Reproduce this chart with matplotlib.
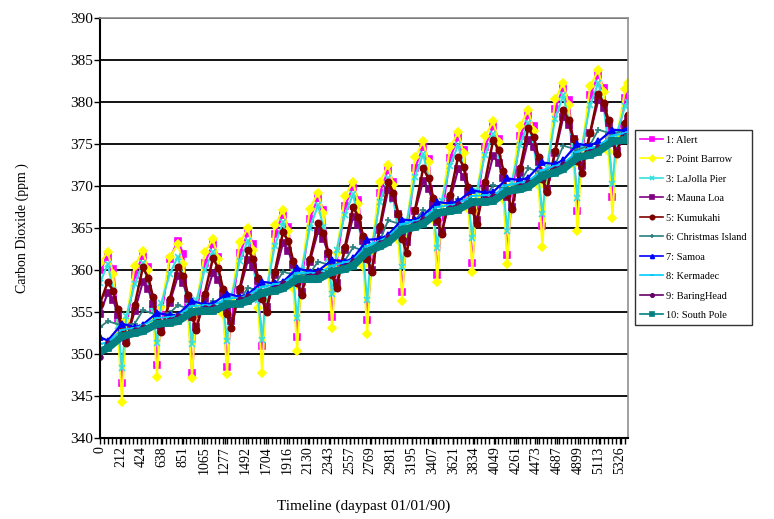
import matplotlib
matplotlib.use("Agg")
import matplotlib.pyplot as plt
from matplotlib.ticker import FixedLocator, MultipleLocator

plt.rcParams["font.family"] = ["Liberation Serif", "DejaVu Serif"]

# days past 01/01/90, seasonal stations (6 points per cycle)
DAYS = [0,
        80, 135, 185, 225, 270, 355,
        439, 494, 544, 584, 629, 714,
        798, 853, 903, 943, 988, 1073,
        1157, 1212, 1262, 1302, 1347, 1432,
        1516, 1571, 1621, 1661, 1706, 1791,
        1875, 1930, 1980, 2020, 2065, 2150,
        2234, 2289, 2339, 2379, 2424, 2509,
        2593, 2648, 2698, 2738, 2783, 2868,
        2952, 3007, 3057, 3097, 3142, 3227,
        3311, 3366, 3416, 3456, 3501, 3586,
        3670, 3725, 3775, 3815, 3860, 3945,
        4029, 4084, 4134, 4174, 4219, 4304,
        4388, 4443, 4493, 4533, 4578, 4663,
        4747, 4802, 4852, 4892, 4937, 5022,
        5106, 5161, 5211, 5251, 5296, 5381,
        5405]

# days past 01/01/90, southern / tropical stations (3 points per cycle)
DAYS_SMOOTH = [0,
               80, 225, 355,
               439, 584, 714,
               798, 943, 1073,
               1157, 1302, 1432,
               1516, 1661, 1791,
               1875, 2020, 2150,
               2234, 2379, 2509,
               2593, 2738, 2868,
               2952, 3097, 3227,
               3311, 3456, 3586,
               3670, 3815, 3945,
               4029, 4174, 4304,
               4388, 4533, 4663,
               4747, 4892, 5022,
               5106, 5251, 5381,
               5405]

ALERT = [360.0,
         361.6, 360.1, 354.1, 346.5, 353.3, 359.4,
         361.7, 360.4, 355.2, 348.7, 354.6, 361.3,
         363.5, 361.9, 355.6, 347.7, 354.8, 360.8,
         363.1, 361.6, 355.8, 348.5, 355.1, 362.0,
         364.4, 363.1, 357.7, 351.0, 357.0, 364.3,
         366.6, 365.1, 359.3, 352.0, 358.6, 366.1,
         368.6, 367.2, 361.5, 354.4, 360.8, 367.6,
         369.9, 368.3, 362.0, 354.0, 361.2, 369.2,
         371.9, 370.5, 364.7, 357.4, 363.9, 372.1,
         374.7, 373.2, 367.1, 359.4, 366.3, 373.3,
         375.8, 374.3, 368.3, 360.8, 367.6, 374.7,
         377.1, 375.6, 369.5, 361.8, 368.7, 375.9,
         378.4, 377.1, 371.8, 365.2, 371.1, 379.2,
         381.7, 380.2, 374.4, 367.0, 373.6, 380.8,
         383.2, 381.7, 376.0, 368.7, 375.2, 380.5,
         381.5]

BARROW = [360.8,
          362.2, 359.5, 352.4, 344.3, 354.1, 360.5,
          362.3, 360.0, 354.1, 347.3, 355.6, 361.5,
          363.1, 360.7, 354.4, 347.2, 355.9, 362.1,
          363.7, 361.3, 354.8, 347.6, 356.5, 363.3,
          365.0, 362.4, 355.5, 347.7, 357.2, 365.3,
          367.2, 364.7, 357.9, 350.3, 359.6, 367.3,
          369.2, 366.8, 360.3, 353.1, 362.0, 368.8,
          370.5, 367.8, 360.5, 352.4, 362.4, 370.5,
          372.5, 370.1, 363.6, 356.3, 365.2, 373.4,
          375.3, 372.8, 366.1, 358.6, 367.8, 374.6,
          376.4, 373.9, 367.3, 359.8, 368.9, 375.9,
          377.7, 375.2, 368.4, 360.7, 370.1, 377.2,
          379.0, 376.6, 370.0, 362.7, 371.7, 380.3,
          382.3, 379.6, 372.6, 364.6, 374.3, 381.9,
          383.8, 381.2, 374.1, 366.2, 375.9, 381.5,
          382.3]

LA_JOLLA = [358.5,
            360.7, 357.6, 353.3, 348.3, 354.5, 358.3,
            360.8, 358.4, 355.1, 351.3, 356.1, 359.5,
            361.6, 359.0, 355.4, 351.2, 356.4, 360.0,
            362.2, 359.6, 355.8, 351.6, 356.9, 361.1,
            363.5, 360.6, 356.4, 351.7, 357.6, 362.9,
            365.7, 362.9, 358.9, 354.3, 360.0, 365.0,
            367.7, 365.1, 361.3, 357.1, 362.4, 366.6,
            369.0, 365.9, 361.4, 356.4, 362.7, 368.1,
            371.0, 368.3, 364.6, 360.3, 365.7, 371.1,
            373.8, 371.0, 367.1, 362.6, 368.2, 372.4,
            374.9, 372.1, 368.2, 363.8, 369.4, 373.7,
            376.2, 373.3, 369.3, 364.7, 370.5, 374.9,
            377.5, 374.8, 371.0, 366.7, 372.1, 378.0,
            380.8, 377.8, 373.5, 368.6, 374.7, 379.6,
            382.3, 379.3, 375.0, 370.2, 376.3, 379.5,
            380.0]

MAUNA_LOA = [354.8,
             357.3, 356.4, 354.7, 352.7, 351.5, 355.1,
             358.6, 357.7, 356.0, 354.0, 352.8, 356.1,
             359.3, 358.4, 356.6, 354.4, 353.2, 356.5,
             359.7, 358.8, 357.1, 355.1, 353.9, 357.6,
             361.2, 360.4, 358.7, 356.7, 355.6, 359.4,
             363.2, 362.3, 360.6, 358.6, 357.4, 361.0,
             364.6, 363.7, 361.9, 359.6, 358.4, 362.4,
             366.3, 365.4, 363.5, 361.3, 360.0, 364.8,
             369.5, 368.6, 366.7, 364.5, 363.3, 367.0,
             370.6, 369.7, 367.9, 365.7, 364.5, 368.3,
             372.0, 371.1, 369.3, 367.2, 366.0, 369.8,
             373.6, 372.7, 370.9, 368.7, 367.5, 371.5,
             375.5, 374.6, 372.9, 370.8, 369.6, 373.9,
             378.2, 377.3, 375.6, 373.6, 372.4, 376.3,
             380.2, 379.3, 377.5, 375.4, 374.2, 377.2,
             378.0]

KUMUKAHI = [356.0,
            358.6, 357.5, 355.3, 352.8, 351.3, 355.8,
            360.3, 359.1, 356.8, 354.1, 352.6, 356.5,
            360.4, 359.3, 357.0, 354.4, 352.9, 357.2,
            361.4, 360.2, 357.7, 354.8, 353.1, 357.8,
            362.4, 361.3, 359.1, 356.5, 355.0, 359.8,
            364.5, 363.4, 361.1, 358.5, 357.0, 361.3,
            365.6, 364.4, 362.1, 359.4, 357.8, 362.7,
            367.5, 366.3, 364.0, 361.3, 359.8, 365.2,
            370.5, 369.2, 366.7, 363.7, 362.0, 367.1,
            372.1, 370.9, 368.6, 365.9, 364.3, 368.9,
            373.5, 372.3, 369.9, 367.1, 365.5, 370.5,
            375.5, 374.3, 371.8, 368.9, 367.3, 372.1,
            376.9, 375.8, 373.5, 370.8, 369.3, 374.2,
            379.0, 377.9, 375.6, 373.0, 371.5, 376.3,
            381.0, 379.9, 377.8, 375.2, 373.8, 377.5,
            378.5]

CHRISTMAS = [353.2,
             353.9, 353.4, 353.6,
             355.2, 354.7, 354.9,
             355.8, 355.3, 355.6,
             356.3, 355.8, 356.4,
             357.9, 357.4, 358.2,
             359.8, 359.3, 359.6,
             361.0, 360.5, 361.1,
             362.7, 362.2, 363.5,
             365.9, 365.4, 365.9,
             367.1, 366.6, 367.2,
             368.5, 368.0, 368.6,
             370.1, 369.6, 370.4,
             372.1, 371.6, 372.5,
             374.8, 374.3, 374.9,
             376.7, 376.2, 376.6,
             376.8]

SAMOA = [352.0,
         351.6, 353.6, 353.2,
         353.5, 354.9, 354.6,
         354.7, 356.3, 355.9,
         356.0, 357.2, 356.8,
         357.1, 358.6, 358.4,
         358.6, 360.2, 359.8,
         359.9, 361.2, 361.0,
         361.4, 363.6, 363.7,
         364.2, 366.0, 365.9,
         366.5, 368.1, 367.9,
         368.2, 369.5, 369.2,
         369.3, 370.9, 370.7,
         371.0, 372.8, 372.6,
         373.1, 375.0, 374.8,
         375.3, 376.7, 376.6,
         376.8]

KERMADEC = [351.2,
            351.4, 352.9, 353.1,
            353.4, 354.3, 354.4,
            354.6, 355.7, 355.8,
            355.8, 356.6, 356.7,
            357.0, 358.0, 358.3,
            358.5, 359.6, 359.7,
            359.6, 360.5, 360.9,
            361.2, 362.9, 363.5,
            364.0, 365.5, 365.8,
            366.2, 367.5, 367.7,
            367.9, 368.8, 368.9,
            368.9, 370.1, 370.4,
            370.6, 371.9, 372.4,
            372.7, 374.1, 374.5,
            374.8, 376.0, 376.3,
            376.4]

BARING_HEAD = [349.6,
               351.3, 352.0, 352.9,
               353.2, 353.5, 354.1,
               354.5, 354.9, 355.5,
               355.6, 355.8, 356.5,
               356.9, 357.1, 357.9,
               358.4, 358.7, 359.3,
               359.6, 359.7, 360.5,
               361.1, 362.0, 363.2,
               363.9, 364.6, 365.5,
               366.1, 366.6, 367.4,
               367.8, 367.9, 368.5,
               368.8, 369.2, 370.0,
               370.5, 371.0, 372.0,
               372.6, 373.2, 374.1,
               374.7, 375.1, 375.9,
               376.0]

SOUTH_POLE = [350.3,
              350.7, 352.1, 352.5,
              352.7, 353.6, 353.7,
              353.9, 355.0, 355.1,
              355.1, 355.9, 356.0,
              356.3, 357.3, 357.5,
              357.8, 358.9, 358.9,
              358.9, 359.8, 360.1,
              360.5, 362.2, 362.8,
              363.3, 364.8, 365.1,
              365.5, 366.8, 367.0,
              367.2, 368.1, 368.1,
              368.2, 369.4, 369.6,
              369.9, 371.2, 371.6,
              372.0, 373.4, 373.7,
              374.1, 375.3, 375.5,
              375.7]

XTICK_LABELS = [0, 212, 424, 638, 851, 1065, 1277, 1492, 1704, 1916, 2130, 2343,
                2557, 2769, 2981, 3195, 3407, 3621, 3834, 4049, 4261, 4473, 4687,
                4899, 5113, 5326]

# label, x, y, colour, marker, line width, marker size
SERIES = [
    ("1: Alert", DAYS, ALERT, "#FF00FF", "s", 1.5, 4.5),
    ("2: Point Barrow", DAYS, BARROW, "#FFFF00", "D", 1.5, 4.5),
    ("3: LaJolla Pier", DAYS, LA_JOLLA, "#33E0E0", "x", 1.5, 4.5),
    ("4: Mauna Loa", DAYS, MAUNA_LOA, "#800080", "s", 1.5, 4.0),
    ("5: Kumukahi", DAYS, KUMUKAHI, "#800000", "o", 1.8, 4.5),
    ("6: Christmas Island", DAYS_SMOOTH, CHRISTMAS, "#2A8080", "+", 1.3, 5.0),
    ("7: Samoa", DAYS_SMOOTH, SAMOA, "#0000FF", "^", 1.6, 4.0),
    ("8: Kermadec", DAYS_SMOOTH, KERMADEC, "#00CCFF", "_", 1.3, 5.0),
    ("9: BaringHead", DAYS_SMOOTH, BARING_HEAD, "#660066", "o", 1.3, 3.5),
    ("10: South Pole", DAYS_SMOOTH, SOUTH_POLE, "#008080", "s", 5.5, 4.5),
]

fig = plt.figure(figsize=(7.74, 5.19), dpi=100)
ax = fig.add_axes([100 / 774, 81 / 519, 528 / 774, 420 / 519])

for label, xs, ys, col, mk, lw, ms in SERIES:
    ax.plot(xs, ys, color=col, marker=mk, lw=lw, ms=ms, mew=1.2,
            mec=col, mfc=col, label=label)

ax.set_xlim(0, 5410)
ax.set_ylim(340, 390)

ax.yaxis.set_major_locator(MultipleLocator(5))
ax.grid(axis="y", color="black", lw=1.3)
ax.set_axisbelow(True)

ax.xaxis.set_major_locator(FixedLocator(XTICK_LABELS))
ax.set_xticklabels([str(v) for v in XTICK_LABELS], rotation=90, fontsize=10)
ax.xaxis.set_minor_locator(MultipleLocator(42))
ax.tick_params(axis="x", which="both", direction="out", length=4, width=1, pad=2)
ax.tick_params(axis="y", direction="out", length=4, width=1, labelsize=11, pad=1)

for side in ["top", "right"]:
    ax.spines[side].set_color("#909090")
    ax.spines[side].set_linewidth(1.2)
for side in ["left", "bottom"]:
    ax.spines[side].set_color("black")
    ax.spines[side].set_linewidth(1.5)

ax.set_xlabel("Timeline (daypast 01/01/90)", fontsize=11, labelpad=18)
ax.set_ylabel("Carbon Dioxide (ppm )", fontsize=10, labelpad=30)

leg = fig.legend(loc="upper left", bbox_to_anchor=(635 / 774, 1 - 130 / 519),
                 fontsize=7.5, frameon=True, fancybox=False, labelspacing=0.98,
                 handlelength=2.2, handletextpad=0.3, borderpad=0.5,
                 borderaxespad=0, markerscale=0.7)
leg.get_frame().set_edgecolor("black")
leg.get_frame().set_linewidth(1.0)
for h in leg.legend_handles:
    h.set_linewidth(1.2)

fig.savefig("out.png", dpi=100)
